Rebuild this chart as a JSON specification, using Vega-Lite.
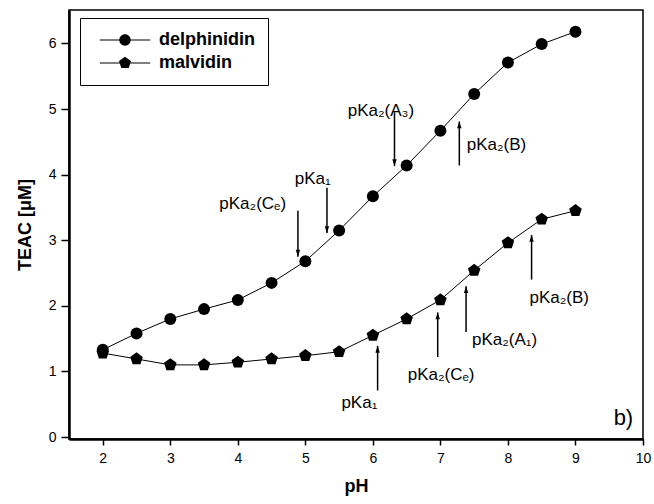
{
  "$schema": "https://vega.github.io/schema/vega-lite/v6.json",
  "width": 574,
  "height": 429,
  "autosize": {"type": "none"},
  "padding": {"left": 69, "top": 10, "right": 11, "bottom": 65},
  "background": "white",
  "config": {
    "font": "Liberation Sans",
    "view": {"stroke": "black", "strokeWidth": 1.5},
    "axis": {"grid": false, "domainColor": "black", "tickColor": "black", "labelColor": "black", "titleColor": "black"},
    "legend": {"strokeColor": "black", "fillColor": "white"}
  },
  "datasets": {
    "main": [
      {"pH": 2, "TEAC": 1.33, "series": "delphinidin"},
      {"pH": 2.5, "TEAC": 1.58, "series": "delphinidin"},
      {"pH": 3, "TEAC": 1.80, "series": "delphinidin"},
      {"pH": 3.5, "TEAC": 1.95, "series": "delphinidin"},
      {"pH": 4, "TEAC": 2.09, "series": "delphinidin"},
      {"pH": 4.5, "TEAC": 2.35, "series": "delphinidin"},
      {"pH": 5, "TEAC": 2.68, "series": "delphinidin"},
      {"pH": 5.5, "TEAC": 3.15, "series": "delphinidin"},
      {"pH": 6, "TEAC": 3.67, "series": "delphinidin"},
      {"pH": 6.5, "TEAC": 4.14, "series": "delphinidin"},
      {"pH": 7, "TEAC": 4.67, "series": "delphinidin"},
      {"pH": 7.5, "TEAC": 5.23, "series": "delphinidin"},
      {"pH": 8, "TEAC": 5.71, "series": "delphinidin"},
      {"pH": 8.5, "TEAC": 5.99, "series": "delphinidin"},
      {"pH": 9, "TEAC": 6.18, "series": "delphinidin"},
      {"pH": 2, "TEAC": 1.28, "series": "malvidin"},
      {"pH": 2.5, "TEAC": 1.19, "series": "malvidin"},
      {"pH": 3, "TEAC": 1.10, "series": "malvidin"},
      {"pH": 3.5, "TEAC": 1.10, "series": "malvidin"},
      {"pH": 4, "TEAC": 1.14, "series": "malvidin"},
      {"pH": 4.5, "TEAC": 1.19, "series": "malvidin"},
      {"pH": 5, "TEAC": 1.24, "series": "malvidin"},
      {"pH": 5.5, "TEAC": 1.30, "series": "malvidin"},
      {"pH": 6, "TEAC": 1.55, "series": "malvidin"},
      {"pH": 6.5, "TEAC": 1.80, "series": "malvidin"},
      {"pH": 7, "TEAC": 2.09, "series": "malvidin"},
      {"pH": 7.5, "TEAC": 2.54, "series": "malvidin"},
      {"pH": 8, "TEAC": 2.96, "series": "malvidin"},
      {"pH": 8.5, "TEAC": 3.32, "series": "malvidin"},
      {"pH": 9, "TEAC": 3.45, "series": "malvidin"}
    ],
    "arrows": [
      {"pH": 4.89, "tail": 3.45, "tip": 2.75, "dir": "down"},
      {"pH": 5.32, "tail": 3.80, "tip": 3.11, "dir": "down"},
      {"pH": 6.32, "tail": 4.95, "tip": 4.13, "dir": "down"},
      {"pH": 7.28, "tail": 4.14, "tip": 4.81, "dir": "up"},
      {"pH": 6.07, "tail": 0.71, "tip": 1.39, "dir": "up"},
      {"pH": 6.96, "tail": 1.22, "tip": 1.90, "dir": "up"},
      {"pH": 7.38, "tail": 1.60, "tip": 2.30, "dir": "up"},
      {"pH": 8.35, "tail": 2.40, "tip": 3.08, "dir": "up"}
    ],
    "labels": [
      {"pH": 4.22, "TEAC": 3.48, "text": "pKa₂(Cₑ)"},
      {"pH": 5.11, "TEAC": 3.85, "text": "pKa₁"},
      {"pH": 6.12, "TEAC": 4.90, "text": "pKa₂(A₃)"},
      {"pH": 7.83, "TEAC": 4.38, "text": "pKa₂(B)"},
      {"pH": 5.80, "TEAC": 0.45, "text": "pKa₁"},
      {"pH": 7.01, "TEAC": 0.87, "text": "pKa₂(Cₑ)"},
      {"pH": 7.95, "TEAC": 1.41, "text": "pKa₂(A₁)"},
      {"pH": 8.76, "TEAC": 2.04, "text": "pKa₂(B)"}
    ],
    "panel": [
      {"pH": 9.71, "TEAC": 0.19, "text": "b)"}
    ]
  },
  "layer": [
    {
      "data": {"name": "main"},
      "mark": {"type": "line", "color": "black", "strokeWidth": 1},
      "encoding": {
        "x": {
          "field": "pH", "type": "quantitative",
          "scale": {"domain": [1.5, 10], "nice": false, "zero": false},
          "axis": {
            "title": "pH",
            "values": [2, 2.5, 3, 3.5, 4, 4.5, 5, 5.5, 6, 6.5, 7, 7.5, 8, 8.5, 9, 9.5, 10],
            "labelExpr": "datum.value % 1 === 0 ? format(datum.value, 'd') : ''",
            "tickSize": {"condition": {"test": "datum.value % 1 !== 0", "value": 4}, "value": 6},
            "tickWidth": 1.5,
            "domainWidth": 2.5,
            "labelFontSize": 14,
            "labelPadding": 6,
            "labelFlush": false,
            "titleFontSize": 18,
            "titleFontWeight": "bold",
            "titlePadding": 12
          }
        },
        "y": {
          "field": "TEAC", "type": "quantitative",
          "scale": {"domain": [-0.03, 6.51], "nice": false, "zero": false},
          "axis": {
            "title": "TEAC [μM]",
            "values": [0, 0.5, 1, 1.5, 2, 2.5, 3, 3.5, 4, 4.5, 5, 5.5, 6],
            "labelExpr": "datum.value % 1 === 0 ? format(datum.value, 'd') : ''",
            "tickSize": {"condition": {"test": "datum.value % 1 !== 0", "value": 4}, "value": 8},
            "tickWidth": 1.5,
            "domainWidth": 2.5,
            "labelFontSize": 14,
            "labelPadding": 5,
            "labelFlush": false,
            "titleFontSize": 18,
            "titleFontWeight": "bold",
            "titlePadding": 14
          }
        },
        "detail": {"field": "series"}
      }
    },
    {
      "data": {"name": "main"},
      "mark": {"type": "point", "filled": true, "color": "black", "opacity": 1, "size": 144},
      "encoding": {
        "x": {"field": "pH", "type": "quantitative"},
        "y": {"field": "TEAC", "type": "quantitative"},
        "shape": {
          "field": "series", "type": "nominal",
          "scale": {"domain": ["delphinidin", "malvidin"], "range": ["circle", "M0,-1.1L1.046,-0.34L0.647,0.89L-0.647,0.89L-1.046,-0.34Z"]},
          "legend": null
        }
      }
    },
    {
      "data": {"name": "main"},
      "transform": [{"filter": "datum.pH < 0"}],
      "mark": {"type": "point", "filled": true, "color": "black", "opacity": 1, "size": 144},
      "encoding": {
        "x": {"field": "pH", "type": "quantitative"},
        "y": {"field": "TEAC", "type": "quantitative"},
        "shape": {
          "field": "series", "type": "nominal",
          "scale": {"domain": ["delphinidin", "malvidin"], "range": ["M-4.2,-0.09H4.2V0.09H-4.2ZM0.95,0A0.95,0.95,0,1,1,-0.95,0A0.95,0.95,0,1,1,0.95,0Z", "M-4.2,-0.09H4.2V0.09H-4.2ZM0,-1.05L1.0,-0.33L0.62,0.85L-0.62,0.85L-1.0,-0.33Z"]},
          "legend": {
            "title": null,
            "orient": "none",
            "legendX": 11,
            "legendY": 8,
            "padding": 13,
            "symbolSize": 144,
            "symbolOffset": 23,
            "labelOffset": 25,
            "symbolFillColor": "black",
            "symbolOpacity": 1,
            "labelFontSize": 18,
            "labelFontWeight": "bold",
            "labelColor": "black",
            "rowPadding": 4,
            "strokeColor": "black",
            "fillColor": "white",
            "encode": {
              "symbols": {"update": {"fill": {"value": "black"}, "opacity": {"value": 1}}},
              "legend": {"update": {"stroke": {"value": "black"}, "strokeWidth": {"value": 1}, "fill": {"value": "white"}}}
            }
          }
        }
      }
    },
    {
      "data": {"name": "arrows"},
      "mark": {"type": "rule", "color": "black", "strokeWidth": 1.5},
      "encoding": {
        "x": {"field": "pH", "type": "quantitative"},
        "y": {"field": "tail", "type": "quantitative"},
        "y2": {"field": "tip"}
      }
    },
    {
      "data": {"name": "arrows"},
      "transform": [{"filter": "datum.dir === 'down'"}],
      "mark": {"type": "point", "filled": true, "color": "black", "opacity": 1, "size": 64, "shape": "M-0.55,-1.7L0.55,-1.7L0,0Z"},
      "encoding": {
        "x": {"field": "pH", "type": "quantitative"},
        "y": {"field": "tip", "type": "quantitative"}
      }
    },
    {
      "data": {"name": "arrows"},
      "transform": [{"filter": "datum.dir === 'up'"}],
      "mark": {"type": "point", "filled": true, "color": "black", "opacity": 1, "size": 64, "shape": "M-0.55,1.7L0.55,1.7L0,0Z"},
      "encoding": {
        "x": {"field": "pH", "type": "quantitative"},
        "y": {"field": "tip", "type": "quantitative"}
      }
    },
    {
      "data": {"name": "labels"},
      "mark": {"type": "text", "fontSize": 17, "color": "black", "align": "center", "baseline": "alphabetic"},
      "encoding": {
        "x": {"field": "pH", "type": "quantitative"},
        "y": {"field": "TEAC", "type": "quantitative"},
        "text": {"field": "text"}
      }
    },
    {
      "data": {"name": "panel"},
      "mark": {"type": "text", "fontSize": 22, "color": "black", "align": "center", "baseline": "alphabetic"},
      "encoding": {
        "x": {"field": "pH", "type": "quantitative"},
        "y": {"field": "TEAC", "type": "quantitative"},
        "text": {"field": "text"}
      }
    }
  ],
  "resolve": {"scale": {"shape": "independent"}, "legend": {"shape": "independent"}}
}
